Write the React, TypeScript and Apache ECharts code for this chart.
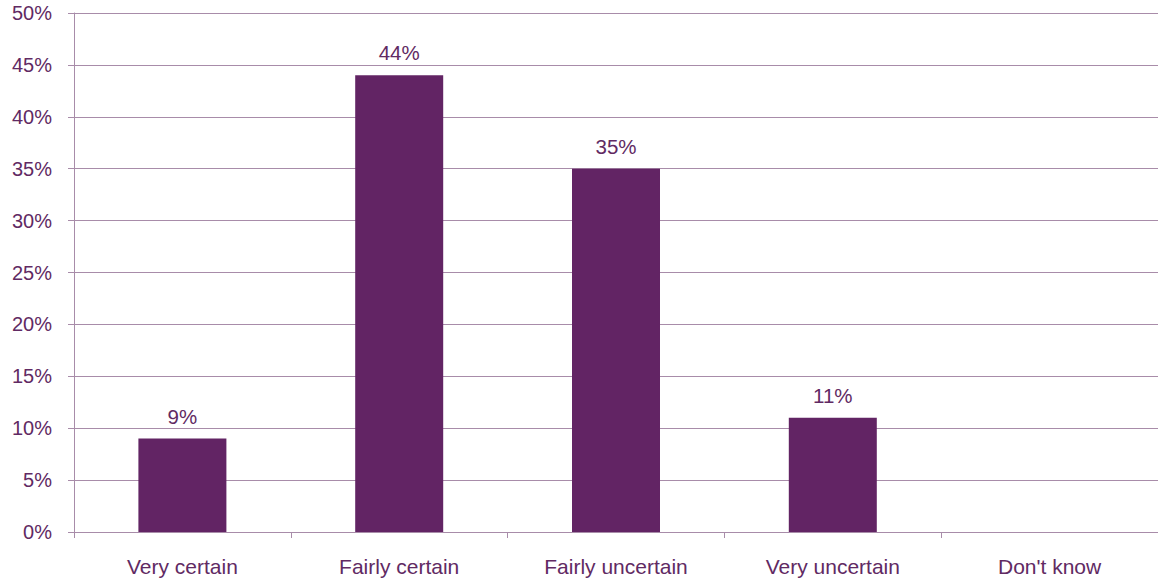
import React, { useEffect, useRef } from "react";
import * as echarts from "echarts";

const categories = ["Very certain", "Fairly certain", "Fairly uncertain", "Very uncertain", "Don't know"];
const values = [9, 44, 35, 11, 0];
const yTicks = [0, 5, 10, 15, 20, 25, 30, 35, 40, 45, 50];

const TEXT = "#612a63";
const BAR = "#622464";
const LINE = "#a88ca9";
const FONT = "'Liberation Sans', Arial, sans-serif";

export default function App() {
  const ref = useRef<HTMLDivElement>(null);
  useEffect(() => {
    if (!ref.current) return;
    const chart = echarts.init(ref.current, undefined, { renderer: "svg" });
    chart.setOption({
      animation: false,
      grid: { left: 74, top: 13, width: 1087.5, bottom: 48, containLabel: false },
      xAxis: {
        type: "category",
        data: categories,
        axisLine: { lineStyle: { color: LINE, width: 1 } },
        axisTick: { show: true, length: 6, lineStyle: { color: LINE } },
        axisLabel: { color: TEXT, fontSize: 21, fontFamily: FONT, margin: 24 },
      },
      yAxis: {
        type: "value",
        min: yTicks[0],
        max: yTicks[yTicks.length - 1],
        interval: 5,
        axisLine: { show: true, lineStyle: { color: LINE, width: 1 } },
        axisTick: { show: true, length: 6, lineStyle: { color: LINE } },
        splitLine: { show: true, lineStyle: { color: LINE, width: 1 } },
        axisLabel: {
          color: TEXT,
          fontSize: 20,
          fontFamily: FONT,
          margin: 22,
          formatter: (v: number) => `${v}%`,
        },
      },
      series: [
        {
          type: "bar",
          data: values,
          barWidth: 88,
          itemStyle: { color: BAR },
          label: {
            show: true,
            position: "top",
            distance: 12,
            color: TEXT,
            fontSize: 20.5,
            fontFamily: FONT,
            formatter: (p: any) => (p.value > 0 ? `${p.value}%` : ""),
          },
        },
      ],
    });
    return () => chart.dispose();
  }, []);
  return (
    <div
      ref={ref}
      style={{ position: "fixed", left: 0, top: 0, width: 1158, height: 580, background: "#fff" }}
    />
  );
}
